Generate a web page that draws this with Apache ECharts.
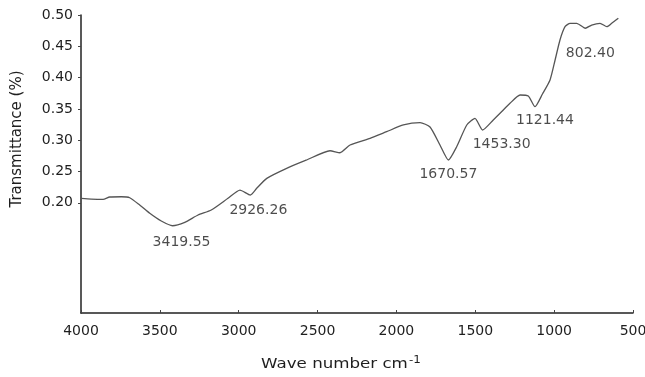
<!DOCTYPE html>
<html>
<head>
<meta charset="utf-8">
<title>FTIR spectrum</title>
<script src="https://cdn.jsdelivr.net/npm/echarts@6/dist/echarts.min.js"></script>
<style>
  html, body { margin: 0; padding: 0; background: #fff; }
  #chart { width: 645px; height: 377px; }
</style>
</head>
<body>
<div id="chart"></div>
<script>
// FTIR spectrum: wave number (cm-1) vs transmittance
const wavenumbers = [
  4000, 3935, 3860, 3818, 3744, 3691, 3628, 3564, 3491, 3419.55,
  3342, 3258, 3174, 3068, 2992, 2926.26, 2886, 2822, 2696, 2569,
  2421, 2358, 2294, 2167, 2062, 1956, 1850, 1787, 1724, 1670.57,
  1618, 1554, 1502, 1453.30, 1386, 1343, 1280, 1216, 1164, 1121.44,
  1074, 1026, 994, 963, 931, 899, 857, 802.40, 762, 709,
  666, 635, 593
];
const transmittance = [
  0.207, 0.206, 0.2056, 0.2093, 0.2097, 0.2081, 0.1965, 0.1832, 0.1709, 0.1634,
  0.1688, 0.1805, 0.1885, 0.2072, 0.2204, 0.2125, 0.2232, 0.2391, 0.2551, 0.2684,
  0.2832, 0.2800, 0.2923, 0.3030, 0.3136, 0.3243, 0.3280, 0.3211, 0.2923, 0.2684,
  0.2896, 0.3243, 0.3350, 0.3163, 0.3323, 0.3430, 0.3589, 0.3722, 0.3706, 0.3535,
  0.3738, 0.3962, 0.4281, 0.4601, 0.4813, 0.4867, 0.4867, 0.4788, 0.4840, 0.4867,
  0.4813, 0.4867, 0.4947
];
// Labelled absorption bands (cm-1)
const peakWavenumbers = [3419.55, 2926.26, 1670.57, 1453.30, 1121.44, 802.40];
// Y tick labels
const yTickValues = [0.20, 0.25, 0.30, 0.35, 0.40, 0.45, 0.50];
// X tick labels
const xTickValues = [4000, 3500, 3000, 2500, 2000, 1500, 1000, 500];

// label placement relative to each band minimum (px)
const peakLabelOffsets = [[9, 17], [8, 15], [0, 14], [19, 14], [10, 14], [5, 25]];

const spectrum = wavenumbers.map((w, i) => [w, transmittance[i]]);
const peaks = peakWavenumbers.map((w, i) => ({
  value: [w, transmittance[wavenumbers.indexOf(w)]],
  label: { offset: peakLabelOffsets[i] }
}));

const FONT = 'DejaVu Sans';
const TEXT = '#1e1e1e';

const chart = echarts.init(document.getElementById('chart'), null, { renderer: 'canvas' });
chart.setOption({
  animation: false,
  backgroundColor: '#ffffff',
  grid: { left: 81, right: 12, top: 15, bottom: 64, containLabel: false, outerBoundsMode: 'none' },
  xAxis: {
    type: 'value',
    inverse: true,
    min: 500,
    max: 4000,
    interval: 500,
    splitLine: { show: false },
    axisLine: { show: true, lineStyle: { color: '#222', width: 1.5 } },
    axisTick: { show: true, inside: true, length: 3, lineStyle: { color: '#444' } },
    axisLabel: {
      margin: 11,
      color: TEXT,
      fontFamily: FONT,
      fontSize: 14,
      hideOverlap: false,
      customValues: xTickValues,
      formatter: v => String(v)
    }
  },
  yAxis: {
    type: 'value',
    min: 0.024,
    max: 0.5,
    splitLine: { show: false },
    axisLine: { show: true, lineStyle: { color: '#222', width: 1.5 } },
    axisTick: { show: true, length: 3, customValues: yTickValues, lineStyle: { color: '#444' } },
    axisLabel: {
      margin: 8,
      color: TEXT,
      fontFamily: FONT,
      fontSize: 14,
      customValues: yTickValues,
      formatter: v => v.toFixed(2)
    }
  },
  graphic: [
    {
      type: 'text',
      x: 17,
      y: 139,
      rotation: Math.PI / 2,
      style: {
        text: 'Transmittance (%)',
        fill: TEXT,
        font: '15px "DejaVu Sans"',
        align: 'center',
        verticalAlign: 'middle'
      }
    },
    {
      type: 'text',
      x: 341,
      y: 364,
      scaleX: 1.19,
      style: {
        text: '{m|Wave number cm}{s|-1}',
        align: 'center',
        verticalAlign: 'middle',
        rich: {
          m: { fill: TEXT, fontFamily: FONT, fontSize: 14 },
          s: { fill: TEXT, fontFamily: FONT, fontSize: 10, verticalAlign: 'top', padding: [0, 0, 8, 1] }
        }
      }
    }
  ],
  series: [
    {
      type: 'line',
      data: spectrum,
      showSymbol: false,
      smooth: 0.2,
      lineStyle: { color: '#555', width: 1.3 },
      silent: true
    },
    {
      type: 'scatter',
      data: peaks,
      symbolSize: 0,
      silent: true,
      label: {
        show: true,
        position: 'inside',
        color: TEXT,
        fontFamily: FONT,
        fontSize: 14,
        formatter: p => p.value[0].toFixed(2)
      }
    }
  ]
});
</script>
</body>
</html>
